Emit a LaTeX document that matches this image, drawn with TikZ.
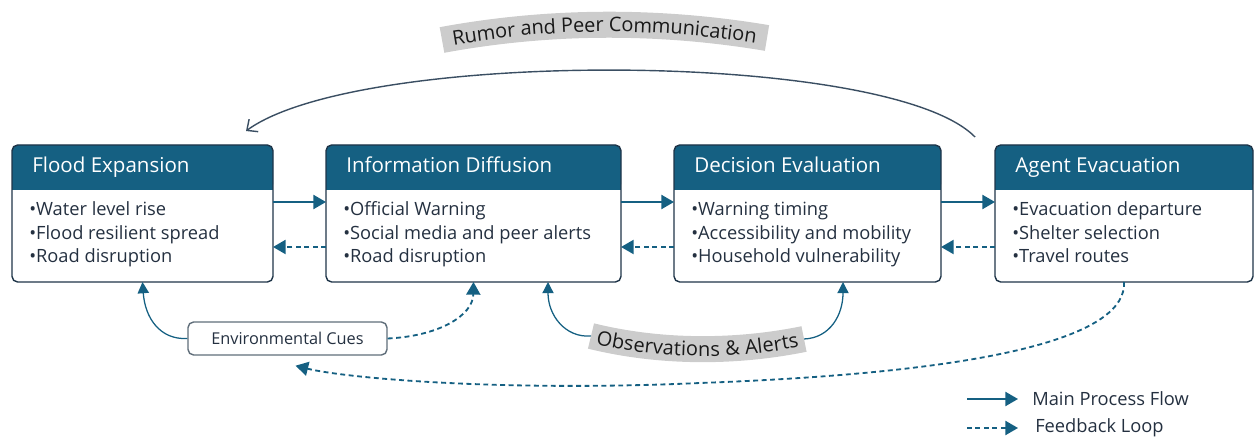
\documentclass[tikz,border=0pt]{standalone}
\usepackage{fontspec}
\setmainfont{Open Sans}
\usetikzlibrary{arrows.meta,decorations.text}
\definecolor{hdrblue}{RGB}{21,96,130}
\definecolor{framec}{RGB}{30,52,72}
\definecolor{txtc}{RGB}{36,48,64}
\definecolor{arcc}{RGB}{58,78,98}
\definecolor{bandg}{RGB}{204,204,204}
\definecolor{cuebd}{RGB}{96,110,122}
\newcommand\bandfont{\fontsize{14.2}{16}\selectfont\color{black!90}}

\begin{document}
\begin{tikzpicture}[x=0.025cm, y=-0.025cm,
  procframe/.style={draw=framec, line width=1pt, rounded corners=4pt, inner sep=0pt, outer sep=0pt},
  hdrtxt/.style={anchor=base west, inner sep=0pt, text=white, font=\fontsize{14.6}{17}\selectfont},
  bodytxt/.style={anchor=base west, inner sep=0pt, text=txtc, font=\fontsize{13}{15}\selectfont},
  legtxt/.style={anchor=west, inner sep=0pt, text=txtc, font=\fontsize{13}{15}\selectfont},
  cuebox/.style={draw=cuebd, fill=white, line width=1pt, rounded corners=4pt, inner sep=0pt,
    minimum width=4.975cm, minimum height=0.825cm, text=txtc, font=\fontsize{11.6}{13}\selectfont},
  mainflow/.style={draw=hdrblue, line width=1.5pt, -{Triangle[length=9pt,width=10pt]}},
  backflow/.style={draw=hdrblue, line width=1.5pt, dash pattern=on 3.5pt off 2.5pt, -{Triangle[length=9pt,width=10pt]}},
  cueflow/.style={draw=hdrblue, line width=0.9pt, -{Triangle[length=8pt,width=8pt]}},
  band/.style={draw=bandg, line width=18.5pt},
]
% geometry in pixel units: x right, y down, canvas 1254 x 438
\def\px{0.025cm}
\useasboundingbox (0,0) rectangle (1254,438);

% ---- four process boxes: name/left/width/title/three bullets ----
\foreach \nm/\x/\w/\ttl/\la/\lb/\lc in {
  fe/12/261/Flood Expansion/Water level rise/Flood resilient spread/Road disruption,
  ids/326/295/Information Diffusion/Official Warning/Social media and peer alerts/Road disruption,
  de/674/267/Decision Evaluation/Warning timing/Accessibility and mobility/Household vulnerability,
  ae/995/258/Agent Evacuation/Evacuation departure/Shelter selection/Travel routes}{
  \fill[hdrblue, rounded corners=4pt] (\x,145) rectangle ({\x+\w},190);
  \fill[hdrblue] (\x,170) rectangle ({\x+\w},190);
  \node[procframe, anchor=north west, minimum width={\w*\px}, minimum height={137*\px}] (\nm) at (\x,145) {};
  \node[hdrtxt] (\nm-t) at ({\x+20},173) {\ttl};
  \node[bodytxt] (\nm-1) at ({\x+17},216) {\textbullet\la};
  \node[bodytxt] (\nm-2) at ({\x+17},239.5) {\textbullet\lb};
  \node[bodytxt] (\nm-3) at ({\x+17},263) {\textbullet\lc};
}

% ---- main flow (solid) and feedback (dashed) between neighbours ----
\foreach \p/\q in {fe/ids, ids/de, de/ae}{
  \draw[mainflow] ([yshift=11.5*\px]\p.east) -- ([yshift=11.5*\px]\q.west);
  \draw[backflow] ([yshift=-33.5*\px]\q.west) -- ([yshift=-33.5*\px]\p.east);
}

% ---- rumor loop over the top ----
\draw[draw=arcc, line width=1pt, -{Straight Barb[length=6pt,width=11pt]}]
  ([xshift=-20*\px, yshift=8*\px]ae.north west) .. controls (890,50) and (360,48) .. ([xshift=-27*\px, yshift=14*\px]fe.north east);
\draw[band] (442,40) .. controls (550,20) and (660,20) .. (767,38);
\path[decorate, decoration={text along path, text align=center, raise=-5pt,
  text={|\bandfont|Rumor and Peer Communication}}] (442,40) .. controls (550,20) and (660,20) .. (767,38);

% ---- environmental cues ----
\node[cuebox] (env) at (287.5,338.5) {Environmental Cues};
\draw[backflow, line width=1.3pt] (ae.south) .. controls (1127,335) and (1000,372) .. (700,383)
  .. controls (500,392) and (345,378) .. ([xshift=8*\px, yshift=-10*\px]env.south);
\draw[cueflow] (env.west) .. controls (160,340) and (145,318) .. (fe.south);
\draw[backflow, line width=1.3pt] (env.east) .. controls (440,336) and (473,315) .. (ids.south);

% ---- observations & alerts ----
\coordinate (obsl) at (591,336);
\coordinate (obsr) at (804,339);
\draw[cueflow] (obsl) .. controls (565,338) and (548,315) .. ([xshift=74.5*\px]ids.south);
\draw[cueflow] (obsr) .. controls (830,338) and (843,315) .. ([xshift=35.5*\px]de.south);
\draw[band] (obsl) .. controls (660,353) and (735,353) .. (obsr);
\path[decorate, decoration={text along path, text align=center, raise=-5pt,
  text={|\bandfont|Observations {\&} Alerts}}] (obsl) .. controls (660,353) and (735,353) .. (obsr);

% ---- legend ----
\node[legtxt] (lgmain) at (1032,399) {Main Process Flow};
\node[legtxt] (lgfb) at (1035,428) {Feedback Loop};
\draw[mainflow] ([xshift=-65*\px]lgmain.west) -- ([xshift=-14*\px]lgmain.west);
\draw[backflow] ([xshift=-68*\px]lgfb.west) -- ([xshift=-17*\px]lgfb.west);
\end{tikzpicture}
\end{document}
